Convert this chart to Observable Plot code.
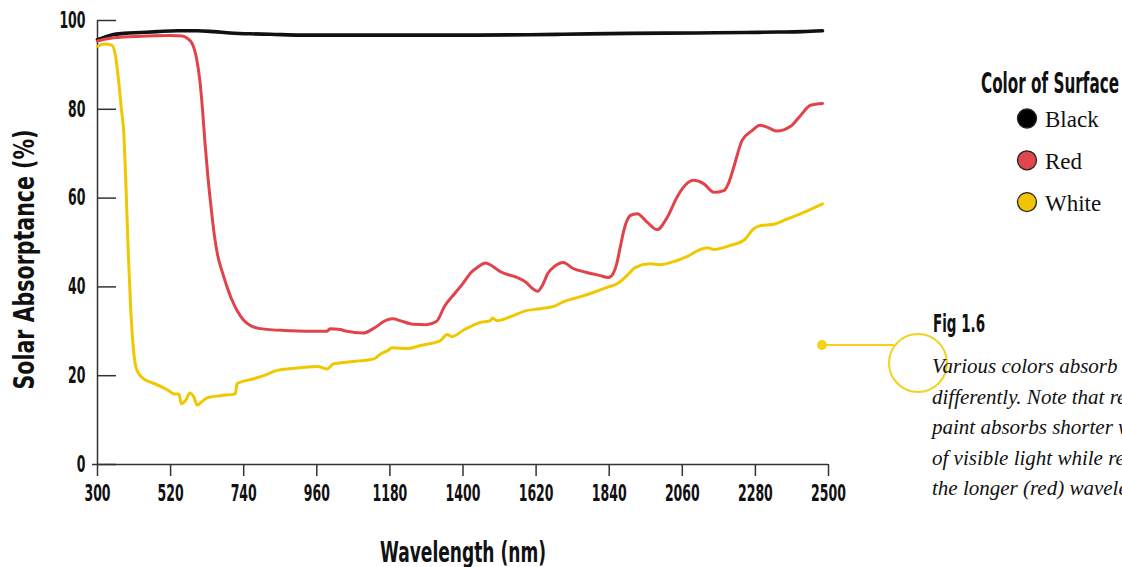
<!DOCTYPE html>
<html><head><meta charset="utf-8">
<script src="https://cdn.jsdelivr.net/npm/d3@7"></script>
<script src="https://cdn.jsdelivr.net/npm/@observablehq/plot@0.6"></script>
<style>
html,body{margin:0;padding:0;background:#fff;overflow:hidden;width:1122px;height:567px}
#wrap{position:relative;width:1122px;height:567px}
#wrap svg{position:absolute;left:0;top:0}
</style></head><body><div id="wrap"></div>
<script>
// ---- data ----
const xTicks = [300, 520, 740, 960, 1180, 1400, 1620, 1840, 2060, 2280, 2500];
const yTicks = [0, 20, 40, 60, 80, 100];
const xLabel = "Wavelength (nm)";
const yLabel = "Solar Absorptance (%)";
const legendTitle = "Color of Surface";
const seriesNames = ["Black", "Red", "White"];
const seriesColors = ["#111111", "#e0434a", "#f0c800"];
const legendFills = ["#000000", "#e0474d", "#f0c400"];
const figTitle = "Fig 1.6";
const captionLines = [
  "Various colors absorb radiation",
  "differently. Note that red",
  "paint absorbs shorter wavelengths",
  "of visible light while reflecting",
  "the longer (red) wavelengths."
];

const blackNm  = [300, 320, 345, 380, 430, 480, 540, 600, 650, 700, 760, 820, 911, 1050, 1200, 1400, 1600, 1700, 1900, 2100, 2250, 2350, 2420, 2482];
const blackVal = [95.7, 96.2, 96.8, 97.1, 97.3, 97.5, 97.7, 97.7, 97.5, 97.2, 97.0, 96.9, 96.7, 96.7, 96.7, 96.7, 96.8, 96.9, 97.1, 97.2, 97.3, 97.4, 97.5, 97.7];

const redNm  = [300, 330, 380, 450, 520, 555, 570, 585, 598, 608, 616, 624, 632, 641, 652, 662, 675, 690, 705, 720, 740, 760, 790, 860, 990, 1000, 1030, 1050, 1100, 1130, 1170, 1190, 1210, 1250, 1290, 1320, 1345, 1375, 1400, 1425, 1445, 1468, 1490, 1513, 1560, 1590, 1610, 1624, 1640, 1655, 1675, 1702, 1730, 1770, 1810, 1838, 1852, 1862, 1872, 1884, 1904, 1924, 1954, 1984, 2015, 2044, 2070, 2094, 2125, 2155, 2185, 2200, 2215, 2240, 2270, 2294, 2320, 2345, 2385, 2416, 2446, 2482];
const redVal = [95.4, 95.9, 96.3, 96.5, 96.6, 96.5, 96.0, 94.8, 91.5, 86.5, 80, 72, 65, 58.5, 51.5, 47, 43.5, 40, 37, 34.7, 32.5, 31.3, 30.6, 30.2, 30.0, 30.6, 30.4, 30.0, 29.6, 30.6, 32.5, 32.8, 32.4, 31.6, 31.5, 32.2, 35.7, 38.5, 40.8, 43.3, 44.5, 45.4, 44.6, 43.4, 42.2, 41.0, 39.6, 39.0, 40.5, 43.0, 44.6, 45.5, 44.2, 43.3, 42.6, 42.1, 43, 45, 48.5, 52.7, 56.1, 56.5, 54.6, 52.9, 55.7, 60.2, 63.0, 64.0, 63.2, 61.3, 61.7, 63.5, 67.0, 73.0, 75.2, 76.4, 75.8, 75.1, 76.1, 78.6, 80.9, 81.3];

const whiteNm  = [300, 320, 344, 354, 364, 372, 379, 386, 393, 400, 407, 414, 420, 439, 465, 490, 515, 530, 545, 552, 565, 578, 590, 600, 615, 630, 670, 715, 720, 770, 800, 841, 911, 961, 991, 1011, 1071, 1132, 1152, 1172, 1187, 1232, 1272, 1332, 1352, 1367, 1402, 1453, 1483, 1488, 1503, 1553, 1583, 1633, 1673, 1703, 1754, 1794, 1834, 1864, 1894, 1919, 1963, 1994, 2034, 2074, 2113, 2135, 2155, 2203, 2245, 2275, 2295, 2335, 2376, 2426, 2482];
const whiteVal = [94.2, 94.7, 94.4, 92.1, 86.1, 80, 74.8, 62, 47, 35, 27, 22.5, 21, 19.3, 18.4, 17.6, 16.6, 15.9, 15.9, 13.7, 14.4, 16.1, 15.2, 13.4, 14.2, 15.0, 15.5, 15.9, 18.2, 19.3, 20.0, 21.2, 21.8, 22.1, 21.5, 22.7, 23.2, 23.8, 24.9, 25.6, 26.3, 26.1, 26.8, 27.9, 29.3, 28.8, 30.3, 32.0, 32.4, 33.0, 32.4, 33.6, 34.5, 35.1, 35.6, 36.7, 37.8, 38.8, 39.9, 40.7, 42.6, 44.4, 45.2, 45.0, 45.7, 46.8, 48.4, 48.8, 48.4, 49.3, 50.5, 53.1, 53.8, 54.1, 55.3, 56.8, 58.7];

// ---- build table ----
const rows = [];
[[blackNm, blackVal], [redNm, redVal], [whiteNm, whiteVal]].forEach(([nm, v], s) => {
  nm.forEach((w, i) => rows.push({series: seriesNames[s], nm: w, val: v[i]}));
});

const NARROW = "'Liberation Sans Narrow','Arial Narrow','DejaVu Sans Condensed',sans-serif";
const SERIF = "'Liberation Serif','DejaVu Serif',serif";

const chart = Plot.plot({
  width: 1122,
  height: 567,
  marginLeft: 97,
  marginRight: 294,
  marginTop: 20,
  marginBottom: 103,
  style: {fontFamily: NARROW, background: "#fff", overflow: "visible"},
  x: {domain: [300, 2500], axis: null},
  y: {domain: [0, 100], axis: null},
  color: {domain: seriesNames, range: seriesColors},
  marks: [
    Plot.ruleX([300], {stroke: "#333", strokeWidth: 1.5}),
    Plot.ruleY([0], {stroke: "#333", strokeWidth: 1.5, insetLeft: -5}),
    Plot.axisX({ticks: xTicks, tickSize: 12, tickPadding: 8, tickFormat: d => `${d}`,
      fontSize: 23, fontWeight: "bold", stroke: "#333", strokeWidth: 1.5, fill: "#111", label: null}),
    Plot.axisY({ticks: yTicks, tickSize: -19, tickPadding: 31, tickFormat: d => `${d}`,
      fontSize: 23, fontWeight: "bold", stroke: "#333", strokeWidth: 1.5, fill: "#111", label: null}),
    Plot.line(rows, {x: "nm", y: "val", z: "series", stroke: {value: "series", scale: "color"},
      strokeWidth: d => d.series === "Black" ? 3.6 : 3,
      curve: "monotone-x", strokeLinejoin: "round", strokeLinecap: "round"}),
    Plot.text([xLabel], {text: d => d, frameAnchor: "bottom", dy: 97, fontSize: 28, fontWeight: "bold", fill: "#111"}),
    Plot.text([yLabel], {text: d => d, frameAnchor: "left", textAnchor: "middle", dx: -72, dy: 17, rotate: -90,
      fontSize: 28, fontWeight: "bold", fill: "#111"})
  ]
});
const wrap = document.getElementById("wrap");
wrap.appendChild(chart);

// condense texts to match the compressed typeface
function condense(t, w) { t.setAttribute("textLength", w); t.setAttribute("lengthAdjust", "spacingAndGlyphs"); }
d3.select(chart).selectAll('g[aria-label="x-axis tick label"] text, g[aria-label="y-axis tick label"] text').each(function() {
  condense(this, this.textContent.length * 8.7);
});
d3.select(chart).selectAll('g[aria-label="text"] text').each(function() {
  condense(this, this.textContent === xLabel ? 166 : 260);
});

// ---- overlay: legend, caption, callout ----
const ov = d3.select(wrap).append("svg").attr("width", 1122).attr("height", 567);
const tt = ov.append("text").attr("x", 981).attr("y", 93).attr("font-family", NARROW).attr("font-weight", "bold")
  .attr("font-size", 29).attr("fill", "#111").text(legendTitle);
condense(tt.node(), 138);
seriesNames.forEach((n, i) => {
  const cy = 118.5 + i * 41.8;
  ov.append("circle").attr("cx", 1027).attr("cy", cy).attr("r", 9.5).attr("fill", legendFills[i]).attr("stroke", "#222").attr("stroke-width", 1.3);
  ov.append("text").attr("x", 1045).attr("y", cy + 8.5).attr("font-family", SERIF).attr("font-size", 23).attr("fill", "#111").text(n);
});
const callC = "#f2d21b";
ov.append("line").attr("x1", 822).attr("y1", 345).attr("x2", 894).attr("y2", 345).attr("stroke", callC).attr("stroke-width", 2);
ov.append("circle").attr("cx", 822).attr("cy", 345).attr("r", 5).attr("fill", callC);
ov.append("circle").attr("cx", 918).attr("cy", 363).attr("r", 29).attr("fill", "none").attr("stroke", callC).attr("stroke-width", 2);
const ft = ov.append("text").attr("x", 933).attr("y", 332).attr("font-family", NARROW).attr("font-weight", "bold")
  .attr("font-size", 24).attr("fill", "#111").text(figTitle);
condense(ft.node(), 52);
captionLines.forEach((l, i) => {
  ov.append("text").attr("x", 932).attr("y", 373 + i * 30.5).attr("font-family", SERIF).attr("font-style", "italic")
    .attr("font-size", 21).attr("fill", "#111").text(l);
});
</script></body></html>
